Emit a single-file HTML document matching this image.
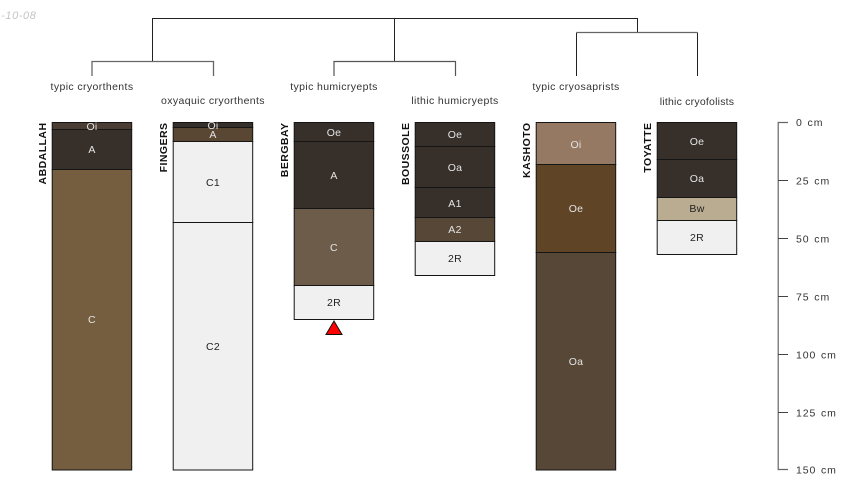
<!DOCTYPE html>
<html>
<head>
<meta charset="utf-8">
<style>
html,body{margin:0;padding:0;background:#fff;}
svg{display:block;}
text{font-family:"Liberation Sans",sans-serif;}
.h{font-size:10.5px;text-anchor:middle;letter-spacing:.3px;}
.l{fill:#e4e4e4;}
.d{fill:#222;}
.t{font-size:10.5px;text-anchor:middle;fill:#333;letter-spacing:.38px;}
.n{font-size:10.5px;font-weight:bold;text-anchor:end;fill:#111;letter-spacing:.45px;}
.a{font-size:10.5px;fill:#333;letter-spacing:.9px;word-spacing:1px;}
rect{stroke:#151515;stroke-width:1;}
</style>
</head>
<body>
<svg width="850" height="500" viewBox="0 0 850 500" xmlns="http://www.w3.org/2000/svg">
<rect x="0" y="0" width="850" height="500" fill="#fff" style="stroke:none"/>
<text x="36.500" y="19" text-anchor="end" font-size="11" font-style="italic" fill="#c4c4c4" letter-spacing=".6">-10-08</text>

<g fill="none" stroke="#222" stroke-width="1">
<path d="M152.500 61V18.500H637.500V32"/>
<path d="M394.500 18.500V61"/>
<path d="M92 76V61.500H213.500V76" stroke="#666" stroke-width="1.300"/>
<path d="M334 76V61.500H455.500V76" stroke="#555" stroke-width="1.200"/>
<path d="M576.500 76V32.500M697.500 32.500V76"/>
<path d="M576.500 32.500H697.500" stroke="#666" stroke-width="1.300"/>
</g>

<text class="t" x="92" y="90">typic cryorthents</text>
<text class="t" x="213" y="104">oxyaquic cryorthents</text>
<text class="t" x="334" y="90">typic humicryepts</text>
<text class="t" x="455" y="104">lithic humicryepts</text>
<text class="t" x="576" y="90">typic cryosaprists</text>
<text class="t" x="697" y="105" style="letter-spacing:.22px">lithic cryofolists</text>

<!-- ABDALLAH -->
<rect x="52.200" y="122.500" width="79.500" height="7" fill="#4a3e34"/>
<rect x="52.200" y="129.500" width="79.500" height="40" fill="#372f2a"/>
<rect x="52.200" y="169.500" width="79.500" height="300.500" fill="#755d40"/>
<text class="h l" x="92" y="130">Oi</text>
<text class="h l" x="92" y="153">A</text>
<text class="h l" x="92" y="323">C</text>
<text class="n" transform="translate(46,122.500) rotate(-90)">ABDALLAH</text>

<!-- FINGERS -->
<rect x="173.200" y="122.500" width="79.500" height="5" fill="#372f2a"/>
<rect x="173.200" y="127.500" width="79.500" height="14" fill="#5a4733"/>
<rect x="173.200" y="141.500" width="79.500" height="81" fill="#f0f0f0"/>
<rect x="173.200" y="222.500" width="79.500" height="247.500" fill="#f0f0f0"/>
<text class="h l" x="213" y="129">Oi</text>
<text class="h l" x="213" y="138">A</text>
<text class="h d" x="213" y="186">C1</text>
<text class="h d" x="213" y="350">C2</text>
<text class="n" transform="translate(167,122.500) rotate(-90)">FINGERS</text>

<!-- BERGBAY -->
<rect x="294.200" y="122.500" width="79.500" height="19" fill="#372f2a"/>
<rect x="294.200" y="141.500" width="79.500" height="67" fill="#372f2a"/>
<rect x="294.200" y="208.500" width="79.500" height="77" fill="#6e5c4a"/>
<rect x="294.200" y="285.500" width="79.500" height="34" fill="#f0f0f0"/>
<text class="h l" x="334" y="136">Oe</text>
<text class="h l" x="334" y="179">A</text>
<text class="h l" x="334" y="251">C</text>
<text class="h d" x="334" y="306">2R</text>
<text class="n" transform="translate(288,122.500) rotate(-90)">BERGBAY</text>
<path d="M334 321L342 334.500H326Z" fill="#ff0000" stroke="#111" stroke-width="1"/>

<!-- BOUSSOLE -->
<rect x="415.200" y="122.500" width="79.500" height="24" fill="#372f2a"/>
<rect x="415.200" y="146.500" width="79.500" height="41" fill="#372f2a"/>
<rect x="415.200" y="187.500" width="79.500" height="30" fill="#372f2a"/>
<rect x="415.200" y="217.500" width="79.500" height="24" fill="#564736"/>
<rect x="415.200" y="241.500" width="79.500" height="34" fill="#f0f0f0"/>
<text class="h l" x="455" y="138">Oe</text>
<text class="h l" x="455" y="171">Oa</text>
<text class="h l" x="455" y="207">A1</text>
<text class="h l" x="455" y="233">A2</text>
<text class="h d" x="455" y="262">2R</text>
<text class="n" transform="translate(409,122.500) rotate(-90)">BOUSSOLE</text>

<!-- KASHOTO -->
<rect x="536.200" y="122.500" width="79.500" height="42" fill="#957962"/>
<rect x="536.200" y="164.500" width="79.500" height="88" fill="#5f4426"/>
<rect x="536.200" y="252.500" width="79.500" height="217.500" fill="#564736"/>
<text class="h l" x="576" y="148">Oi</text>
<text class="h l" x="576" y="212">Oe</text>
<text class="h l" x="576" y="365">Oa</text>
<text class="n" transform="translate(530,122.500) rotate(-90)">KASHOTO</text>

<!-- TOYATTE -->
<rect x="657.200" y="122.500" width="79.500" height="37" fill="#372f2a"/>
<rect x="657.200" y="159.500" width="79.500" height="38" fill="#372f2a"/>
<rect x="657.200" y="197.500" width="79.500" height="23" fill="#b9ac90"/>
<rect x="657.200" y="220.500" width="79.500" height="34" fill="#f0f0f0"/>
<text class="h l" x="697" y="145">Oe</text>
<text class="h l" x="697" y="182">Oa</text>
<text class="h d" x="697" y="212">Bw</text>
<text class="h d" x="697" y="241">2R</text>
<text class="n" transform="translate(651,122.500) rotate(-90)">TOYATTE</text>

<!-- axis -->
<path d="M788 122.500H778.200V469.500H788" fill="none" stroke="#666" stroke-width="1.200"/>
<path d="M778 180.500H788M778 238.500H788M778 296.500H788M778 354.500H788M778 412.500H788" fill="none" stroke="#444" stroke-width="1"/>
<text class="a" x="796" y="126">0 cm</text>
<text class="a" x="796" y="184.500">25 cm</text>
<text class="a" x="796" y="242.500">50 cm</text>
<text class="a" x="796" y="300.500">75 cm</text>
<text class="a" x="796" y="358.500">100 cm</text>
<text class="a" x="796" y="416.500">125 cm</text>
<text class="a" x="796" y="473.500">150 cm</text>
</svg>
</body>
</html>
